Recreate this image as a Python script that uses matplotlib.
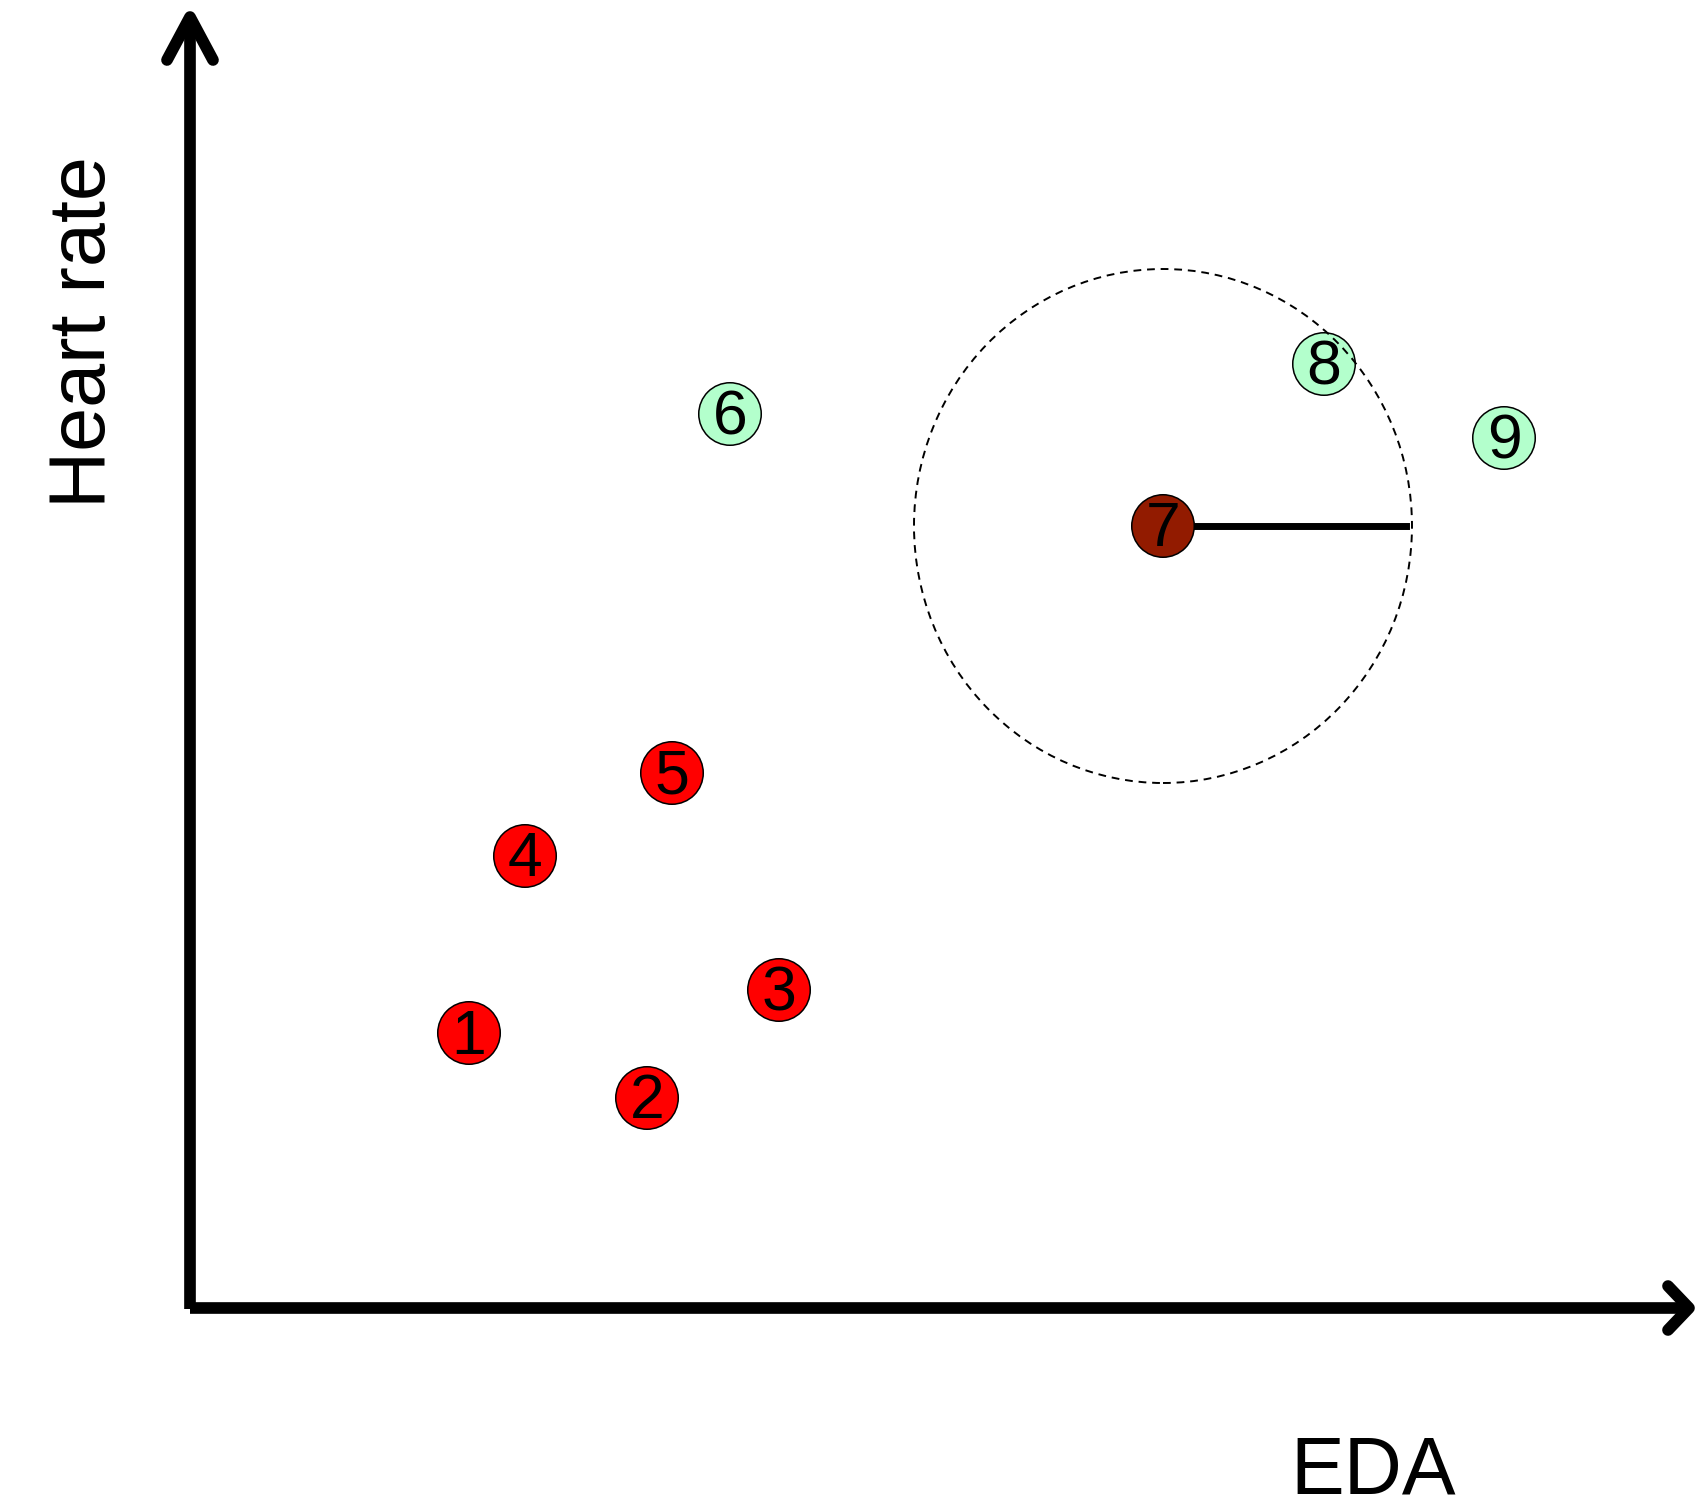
import matplotlib.pyplot as plt
from matplotlib.patches import Ellipse

# Sample positions (EDA, heart rate) in canvas units
labels = ['1', '2', '3', '4', '5', '6', '7', '8', '9']
eda = [469, 647, 779, 525, 672, 730, 1163, 1324, 1504]
heart_rate = [471, 406, 514, 648, 731, 1090, 978, 1140, 1066]
colors = ['#ff0000'] * 5 + ['#b3ffcc', '#921b00', '#b3ffcc', '#b3ffcc']

# neighbourhood radius around point 7
query = 6
radius_x = 249
radius_y = 257

fig = plt.figure(figsize=(16.96, 15.04), dpi=100)
ax = fig.add_axes([0, 0, 1, 1])
ax.set_xlim(0, 1696)
ax.set_ylim(0, 1504)
ax.axis('off')

# Axes drawn as thick arrows
lw = 8.4
ax.plot([190, 190], [195, 1487], color='black', lw=lw, solid_capstyle='butt')
ax.plot([167, 190, 213], [1444, 1487, 1444], color='black', lw=lw,
        solid_capstyle='round', solid_joinstyle='round')
ax.plot([190, 1689], [196, 196], color='black', lw=lw, solid_capstyle='butt')
ax.plot([1668, 1689, 1668], [218, 196, 174], color='black', lw=lw,
        solid_capstyle='round', solid_joinstyle='round')

# Dashed neighbourhood and radius line
cx, cy = eda[query], heart_rate[query]
ax.add_patch(Ellipse((cx, cy), 2 * radius_x, 2 * radius_y, fill=False,
                     ls=(0, (4, 3)), lw=1.4, color='black', zorder=4))
ax.plot([cx, cx + radius_x - 6], [cy, cy], color='black', lw=5, zorder=2)

# Points
ax.scatter(eda, heart_rate, s=45 ** 2, c=colors, edgecolors='black',
           linewidths=1.1, zorder=3)
for lab, x, y in zip(labels, eda, heart_rate):
    ax.text(x, y - 4, lab, fontsize=45, family='Liberation Sans',
            ha='center', va='center', zorder=5)

ax.text(1373, 11, 'EDA', fontsize=58, family='Liberation Sans',
        ha='center', va='baseline')
ax.text(85, 1172, 'Heart rate', fontsize=57, family='Liberation Sans',
        rotation=90, ha='center', va='center')

plt.savefig('out.png', dpi=100)
